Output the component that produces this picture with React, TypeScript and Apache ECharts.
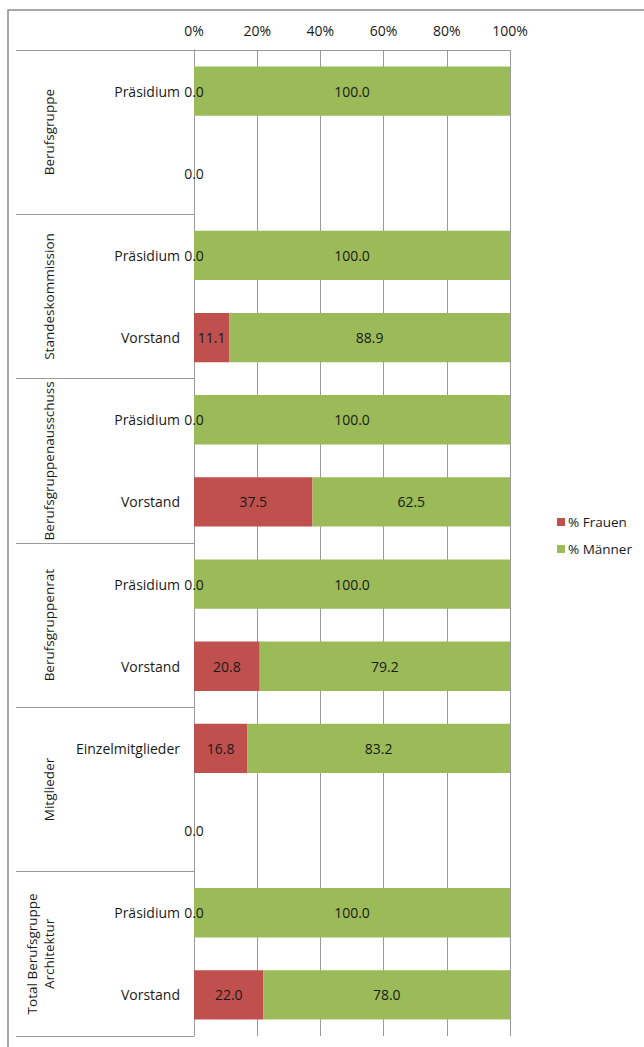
import React, { useEffect, useRef } from "react";
import * as echarts from "echarts";

const rowLabels = [
  "Präsidium", "",
  "Präsidium", "Vorstand",
  "Präsidium", "Vorstand",
  "Präsidium", "Vorstand",
  "Einzelmitglieder", "",
  "Präsidium", "Vorstand",
];
const groupLabels = [
  "Berufsgruppe",
  "Standeskommission",
  "Berufsgruppenausschuss",
  "Berufsgruppenrat",
  "Mitglieder",
  "Total Berufsgruppe\nArchitektur",
];
const frauen = [0, 0, 0, 11.1, 0, 37.5, 0, 20.8, 16.8, 0, 0, 22.0];
const maenner = [100, 0, 100, 88.9, 100, 62.5, 100, 79.2, 83.2, 0, 100, 78.0];
const seriesNames = ["% Frauen", "% Männer"];
const xTicks = { min: 0, max: 100, interval: 20 };

const FONT = "Open Sans";
const TEXT = "#1a1a1a";
const GRID = "#9a9a9a";

export default function App() {
  const ref = useRef<HTMLDivElement>(null);
  useEffect(() => {
    if (!ref.current) return;
    const chart = echarts.init(ref.current, undefined, { renderer: "svg" });
    const labelCfg = (hideZero: boolean) => ({
      show: true,
      position: "inside",
      color: TEXT,
      fontSize: 14,
      fontFamily: FONT,
      formatter: (p: any) =>
        hideZero && Number(p.value) === 0 ? "" : Number(p.value).toFixed(1),
    });
    chart.setOption({
      animation: false,
      textStyle: { fontFamily: FONT },
      graphic: [
        {
          type: "rect",
          shape: { x: 8, y: 10, width: 800, height: 1200 },
          style: { fill: "none", stroke: "#8c8c8c", lineWidth: 1.5 },
          silent: true,
        },
      ],
      legend: {
        orient: "vertical",
        left: 552,
        top: 510,
        itemWidth: 8,
        itemHeight: 8,
        itemGap: 13,
        icon: "rect",
        textStyle: { color: TEXT, fontSize: 13.5, fontFamily: FONT, padding: [0, 0, 0, -2] },
        data: seriesNames,
      },
      grid: { left: 194, right: 134, top: 50, bottom: 11, containLabel: false },
      xAxis: {
        type: "value",
        position: "top",
        min: xTicks.min,
        max: xTicks.max,
        interval: xTicks.interval,
        axisLine: { show: true, lineStyle: { color: GRID, width: 1 } },
        axisTick: { show: false },
        splitLine: { show: true, lineStyle: { color: GRID, width: 1 } },
        axisLabel: {
          formatter: "{value}%",
          color: TEXT,
          fontSize: 14,
          fontFamily: FONT,
          margin: 13,
        },
      },
      yAxis: [
        {
          type: "category",
          inverse: true,
          position: "left",
          data: rowLabels,
          axisLine: { show: true, lineStyle: { color: GRID, width: 1 } },
          axisTick: { show: false },
          axisLabel: { color: TEXT, fontSize: 14, fontFamily: FONT, margin: 14, interval: 0 },
        },
        {
          type: "category",
          inverse: true,
          position: "left",
          data: groupLabels,
          axisLine: { show: false },
          axisTick: { show: true, length: 178, interval: 0, lineStyle: { color: GRID, width: 1 } },
          axisLabel: {
            rotate: 90,
            interval: 0,
            margin: 137,
            color: TEXT,
            fontSize: 13.5,
            lineHeight: 17,
            fontFamily: FONT,
          },
        },
      ],
      series: [
        {
          name: seriesNames[0],
          type: "bar",
          stack: "total",
          yAxisIndex: 0,
          barCategoryGap: "40%",
          itemStyle: { color: "#C0504D" },
          label: labelCfg(false),
          data: frauen,
        },
        {
          name: seriesNames[1],
          type: "bar",
          stack: "total",
          yAxisIndex: 0,
          barCategoryGap: "40%",
          itemStyle: { color: "#9BBB59" },
          label: labelCfg(true),
          data: maenner,
        },
      ],
    });
    return () => chart.dispose();
  }, []);
  return (
    <div
      ref={ref}
      style={{ position: "absolute", left: 0, top: 0, width: 644, height: 1047 }}
    />
  );
}
